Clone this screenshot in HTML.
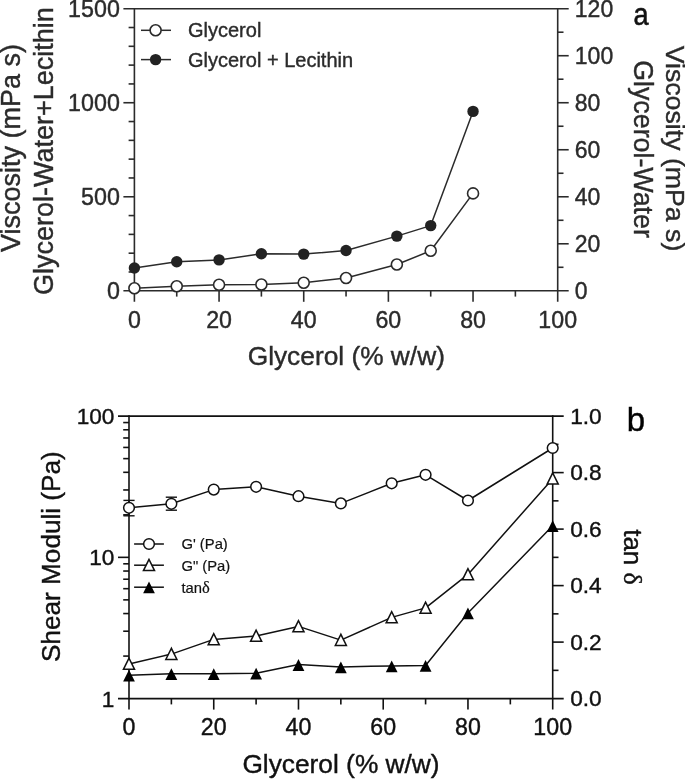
<!DOCTYPE html>
<html><head><meta charset="utf-8"><title>Figure</title>
<style>
html,body{margin:0;padding:0;background:#fff;}
body{width:685px;height:779px;overflow:hidden;font-family:"Liberation Sans",sans-serif;}
svg{display:block;}
svg g{opacity:0.999;}
</style></head><body>
<svg width="685" height="779" viewBox="0 0 685 779">
<rect width="685" height="779" fill="#fff"/>
<g id="panelA">
<line x1="134.40" y1="7.90" x2="134.40" y2="301.80" stroke="#2b2b2b" stroke-width="1.6" stroke-linecap="butt"/>
<line x1="557.70" y1="7.90" x2="557.70" y2="301.80" stroke="#2b2b2b" stroke-width="1.6" stroke-linecap="butt"/>
<line x1="123.40" y1="8.70" x2="568.70" y2="8.70" stroke="#2b2b2b" stroke-width="1.6" stroke-linecap="butt"/>
<line x1="123.40" y1="290.80" x2="568.70" y2="290.80" stroke="#2b2b2b" stroke-width="1.6" stroke-linecap="butt"/>
<line x1="128.60" y1="271.99" x2="134.40" y2="271.99" stroke="#2b2b2b" stroke-width="1.6" stroke-linecap="butt"/>
<line x1="128.60" y1="253.19" x2="134.40" y2="253.19" stroke="#2b2b2b" stroke-width="1.6" stroke-linecap="butt"/>
<line x1="128.60" y1="234.38" x2="134.40" y2="234.38" stroke="#2b2b2b" stroke-width="1.6" stroke-linecap="butt"/>
<line x1="128.60" y1="215.57" x2="134.40" y2="215.57" stroke="#2b2b2b" stroke-width="1.6" stroke-linecap="butt"/>
<line x1="123.40" y1="196.77" x2="134.40" y2="196.77" stroke="#2b2b2b" stroke-width="1.6" stroke-linecap="butt"/>
<line x1="128.60" y1="177.96" x2="134.40" y2="177.96" stroke="#2b2b2b" stroke-width="1.6" stroke-linecap="butt"/>
<line x1="128.60" y1="159.15" x2="134.40" y2="159.15" stroke="#2b2b2b" stroke-width="1.6" stroke-linecap="butt"/>
<line x1="128.60" y1="140.35" x2="134.40" y2="140.35" stroke="#2b2b2b" stroke-width="1.6" stroke-linecap="butt"/>
<line x1="128.60" y1="121.54" x2="134.40" y2="121.54" stroke="#2b2b2b" stroke-width="1.6" stroke-linecap="butt"/>
<line x1="123.40" y1="102.73" x2="134.40" y2="102.73" stroke="#2b2b2b" stroke-width="1.6" stroke-linecap="butt"/>
<line x1="128.60" y1="83.93" x2="134.40" y2="83.93" stroke="#2b2b2b" stroke-width="1.6" stroke-linecap="butt"/>
<line x1="128.60" y1="65.12" x2="134.40" y2="65.12" stroke="#2b2b2b" stroke-width="1.6" stroke-linecap="butt"/>
<line x1="128.60" y1="46.31" x2="134.40" y2="46.31" stroke="#2b2b2b" stroke-width="1.6" stroke-linecap="butt"/>
<line x1="128.60" y1="27.51" x2="134.40" y2="27.51" stroke="#2b2b2b" stroke-width="1.6" stroke-linecap="butt"/>
<line x1="557.70" y1="267.29" x2="563.50" y2="267.29" stroke="#2b2b2b" stroke-width="1.6" stroke-linecap="butt"/>
<line x1="557.70" y1="243.78" x2="568.70" y2="243.78" stroke="#2b2b2b" stroke-width="1.6" stroke-linecap="butt"/>
<line x1="557.70" y1="220.28" x2="563.50" y2="220.28" stroke="#2b2b2b" stroke-width="1.6" stroke-linecap="butt"/>
<line x1="557.70" y1="196.77" x2="568.70" y2="196.77" stroke="#2b2b2b" stroke-width="1.6" stroke-linecap="butt"/>
<line x1="557.70" y1="173.26" x2="563.50" y2="173.26" stroke="#2b2b2b" stroke-width="1.6" stroke-linecap="butt"/>
<line x1="557.70" y1="149.75" x2="568.70" y2="149.75" stroke="#2b2b2b" stroke-width="1.6" stroke-linecap="butt"/>
<line x1="557.70" y1="126.24" x2="563.50" y2="126.24" stroke="#2b2b2b" stroke-width="1.6" stroke-linecap="butt"/>
<line x1="557.70" y1="102.73" x2="568.70" y2="102.73" stroke="#2b2b2b" stroke-width="1.6" stroke-linecap="butt"/>
<line x1="557.70" y1="79.22" x2="563.50" y2="79.22" stroke="#2b2b2b" stroke-width="1.6" stroke-linecap="butt"/>
<line x1="557.70" y1="55.72" x2="568.70" y2="55.72" stroke="#2b2b2b" stroke-width="1.6" stroke-linecap="butt"/>
<line x1="557.70" y1="32.21" x2="563.50" y2="32.21" stroke="#2b2b2b" stroke-width="1.6" stroke-linecap="butt"/>
<line x1="176.73" y1="290.80" x2="176.73" y2="296.60" stroke="#2b2b2b" stroke-width="1.6" stroke-linecap="butt"/>
<line x1="219.06" y1="290.80" x2="219.06" y2="301.80" stroke="#2b2b2b" stroke-width="1.6" stroke-linecap="butt"/>
<line x1="261.39" y1="290.80" x2="261.39" y2="296.60" stroke="#2b2b2b" stroke-width="1.6" stroke-linecap="butt"/>
<line x1="303.72" y1="290.80" x2="303.72" y2="301.80" stroke="#2b2b2b" stroke-width="1.6" stroke-linecap="butt"/>
<line x1="346.05" y1="290.80" x2="346.05" y2="296.60" stroke="#2b2b2b" stroke-width="1.6" stroke-linecap="butt"/>
<line x1="388.38" y1="290.80" x2="388.38" y2="301.80" stroke="#2b2b2b" stroke-width="1.6" stroke-linecap="butt"/>
<line x1="430.71" y1="290.80" x2="430.71" y2="296.60" stroke="#2b2b2b" stroke-width="1.6" stroke-linecap="butt"/>
<line x1="473.04" y1="290.80" x2="473.04" y2="301.80" stroke="#2b2b2b" stroke-width="1.6" stroke-linecap="butt"/>
<line x1="515.37" y1="290.80" x2="515.37" y2="296.60" stroke="#2b2b2b" stroke-width="1.6" stroke-linecap="butt"/>
<text x="119.90" y="299.20" font-size="23.3" text-anchor="end" fill="#2b2b2b" stroke="#2b2b2b" stroke-width="0.4" font-family="Liberation Sans, sans-serif" >0</text>
<text x="119.90" y="205.17" font-size="23.3" text-anchor="end" fill="#2b2b2b" stroke="#2b2b2b" stroke-width="0.4" font-family="Liberation Sans, sans-serif" >500</text>
<text x="119.90" y="111.13" font-size="23.3" text-anchor="end" fill="#2b2b2b" stroke="#2b2b2b" stroke-width="0.4" font-family="Liberation Sans, sans-serif" >1000</text>
<text x="119.90" y="17.10" font-size="23.3" text-anchor="end" fill="#2b2b2b" stroke="#2b2b2b" stroke-width="0.4" font-family="Liberation Sans, sans-serif" >1500</text>
<text x="574.80" y="299.00" font-size="23" text-anchor="start" fill="#2b2b2b" stroke="#2b2b2b" stroke-width="0.4" font-family="Liberation Sans, sans-serif" >0</text>
<text x="574.80" y="251.98" font-size="23" text-anchor="start" fill="#2b2b2b" stroke="#2b2b2b" stroke-width="0.4" font-family="Liberation Sans, sans-serif" >20</text>
<text x="574.80" y="204.97" font-size="23" text-anchor="start" fill="#2b2b2b" stroke="#2b2b2b" stroke-width="0.4" font-family="Liberation Sans, sans-serif" >40</text>
<text x="574.80" y="157.95" font-size="23" text-anchor="start" fill="#2b2b2b" stroke="#2b2b2b" stroke-width="0.4" font-family="Liberation Sans, sans-serif" >60</text>
<text x="574.80" y="110.93" font-size="23" text-anchor="start" fill="#2b2b2b" stroke="#2b2b2b" stroke-width="0.4" font-family="Liberation Sans, sans-serif" >80</text>
<text x="574.80" y="63.92" font-size="23" text-anchor="start" fill="#2b2b2b" stroke="#2b2b2b" stroke-width="0.4" font-family="Liberation Sans, sans-serif" >100</text>
<text x="574.80" y="16.90" font-size="23" text-anchor="start" fill="#2b2b2b" stroke="#2b2b2b" stroke-width="0.4" font-family="Liberation Sans, sans-serif" >120</text>
<text x="134.40" y="327.60" font-size="23.2" text-anchor="middle" fill="#2b2b2b" stroke="#2b2b2b" stroke-width="0.4" font-family="Liberation Sans, sans-serif" >0</text>
<text x="219.06" y="327.60" font-size="23.2" text-anchor="middle" fill="#2b2b2b" stroke="#2b2b2b" stroke-width="0.4" font-family="Liberation Sans, sans-serif" >20</text>
<text x="303.72" y="327.60" font-size="23.2" text-anchor="middle" fill="#2b2b2b" stroke="#2b2b2b" stroke-width="0.4" font-family="Liberation Sans, sans-serif" >40</text>
<text x="388.38" y="327.60" font-size="23.2" text-anchor="middle" fill="#2b2b2b" stroke="#2b2b2b" stroke-width="0.4" font-family="Liberation Sans, sans-serif" >60</text>
<text x="473.04" y="327.60" font-size="23.2" text-anchor="middle" fill="#2b2b2b" stroke="#2b2b2b" stroke-width="0.4" font-family="Liberation Sans, sans-serif" >80</text>
<text x="557.70" y="327.60" font-size="23.2" text-anchor="middle" fill="#2b2b2b" stroke="#2b2b2b" stroke-width="0.4" font-family="Liberation Sans, sans-serif" >100</text>
<text x="346.30" y="365.30" font-size="26.3" text-anchor="middle" fill="#2b2b2b" stroke="#2b2b2b" stroke-width="0.4" font-family="Liberation Sans, sans-serif" >Glycerol (% w/w)</text>
<text transform="translate(20.2,148.0) rotate(-90)" font-size="27.0" text-anchor="middle" fill="#2b2b2b" stroke="#2b2b2b" stroke-width="0.4" font-family="Liberation Sans, sans-serif">Viscosity (mPa s)</text>
<text transform="translate(52.6,151.1) rotate(-90)" font-size="27.0" text-anchor="middle" fill="#2b2b2b" stroke="#2b2b2b" stroke-width="0.4" font-family="Liberation Sans, sans-serif">Glycerol-Water+Lecithin</text>
<text transform="translate(666.0,148.5) rotate(90)" font-size="26.7" text-anchor="middle" fill="#2b2b2b" stroke="#2b2b2b" stroke-width="0.4" font-family="Liberation Sans, sans-serif">Viscosity (mPa s)</text>
<text transform="translate(633.5,149.0) rotate(90)" font-size="26.8" text-anchor="middle" fill="#2b2b2b" stroke="#2b2b2b" stroke-width="0.4" font-family="Liberation Sans, sans-serif">Glycerol-Water</text>
<text transform="translate(633.4,24.6) scale(0.86,1)" font-size="31.5" fill="#111" stroke="#111" stroke-width="0.6" font-family="Liberation Sans, sans-serif">a</text>
<polyline fill="none" stroke="#2b2b2b" stroke-width="1.5" stroke-linejoin="round" points="134.40,288.20 176.73,286.30 219.06,284.80 261.39,284.50 303.72,282.80 346.05,278.00 396.85,264.50 430.71,250.80 473.04,193.40"/>
<circle cx="134.40" cy="288.20" r="5.5" fill="#fff" stroke="#2b2b2b" stroke-width="1.6"/>
<circle cx="176.73" cy="286.30" r="5.5" fill="#fff" stroke="#2b2b2b" stroke-width="1.6"/>
<circle cx="219.06" cy="284.80" r="5.5" fill="#fff" stroke="#2b2b2b" stroke-width="1.6"/>
<circle cx="261.39" cy="284.50" r="5.5" fill="#fff" stroke="#2b2b2b" stroke-width="1.6"/>
<circle cx="303.72" cy="282.80" r="5.5" fill="#fff" stroke="#2b2b2b" stroke-width="1.6"/>
<circle cx="346.05" cy="278.00" r="5.5" fill="#fff" stroke="#2b2b2b" stroke-width="1.6"/>
<circle cx="396.85" cy="264.50" r="5.5" fill="#fff" stroke="#2b2b2b" stroke-width="1.6"/>
<circle cx="430.71" cy="250.80" r="5.5" fill="#fff" stroke="#2b2b2b" stroke-width="1.6"/>
<circle cx="473.04" cy="193.40" r="5.5" fill="#fff" stroke="#2b2b2b" stroke-width="1.6"/>
<polyline fill="none" stroke="#2b2b2b" stroke-width="1.5" stroke-linejoin="round" points="134.40,268.00 176.73,261.70 219.06,259.90 261.39,253.80 303.72,254.10 346.05,250.50 396.85,236.10 430.71,225.60 473.04,111.40"/>
<circle cx="134.40" cy="268.00" r="5.7" fill="#222"/>
<circle cx="176.73" cy="261.70" r="5.7" fill="#222"/>
<circle cx="219.06" cy="259.90" r="5.7" fill="#222"/>
<circle cx="261.39" cy="253.80" r="5.7" fill="#222"/>
<circle cx="303.72" cy="254.10" r="5.7" fill="#222"/>
<circle cx="346.05" cy="250.50" r="5.7" fill="#222"/>
<circle cx="396.85" cy="236.10" r="5.7" fill="#222"/>
<circle cx="430.71" cy="225.60" r="5.7" fill="#222"/>
<circle cx="473.04" cy="111.40" r="5.7" fill="#222"/>
<line x1="141.00" y1="30.30" x2="171.00" y2="30.30" stroke="#2b2b2b" stroke-width="1.5" stroke-linecap="butt"/>
<circle cx="155.6" cy="30.3" r="5.5" fill="#fff" stroke="#2b2b2b" stroke-width="1.6"/>
<line x1="141.00" y1="59.60" x2="171.00" y2="59.60" stroke="#2b2b2b" stroke-width="1.5" stroke-linecap="butt"/>
<circle cx="155.6" cy="59.6" r="5.7" fill="#222"/>
<text x="188.00" y="37.40" font-size="20" text-anchor="start" fill="#2b2b2b" stroke="#2b2b2b" stroke-width="0.4" font-family="Liberation Sans, sans-serif" >Glycerol</text>
<text x="188.00" y="66.60" font-size="20" text-anchor="start" fill="#2b2b2b" stroke="#2b2b2b" stroke-width="0.4" font-family="Liberation Sans, sans-serif" >Glycerol + Lecithin</text>
</g>
<g id="panelB">
<line x1="129.00" y1="415.30" x2="129.00" y2="709.60" stroke="#111" stroke-width="1.6" stroke-linecap="butt"/>
<line x1="552.70" y1="415.30" x2="552.70" y2="709.60" stroke="#111" stroke-width="1.6" stroke-linecap="butt"/>
<line x1="118.00" y1="416.10" x2="563.70" y2="416.10" stroke="#111" stroke-width="1.6" stroke-linecap="butt"/>
<line x1="118.00" y1="698.60" x2="563.70" y2="698.60" stroke="#111" stroke-width="1.6" stroke-linecap="butt"/>
<line x1="123.20" y1="656.08" x2="129.00" y2="656.08" stroke="#111" stroke-width="1.6" stroke-linecap="butt"/>
<line x1="123.20" y1="631.21" x2="129.00" y2="631.21" stroke="#111" stroke-width="1.6" stroke-linecap="butt"/>
<line x1="123.20" y1="613.56" x2="129.00" y2="613.56" stroke="#111" stroke-width="1.6" stroke-linecap="butt"/>
<line x1="123.20" y1="599.87" x2="129.00" y2="599.87" stroke="#111" stroke-width="1.6" stroke-linecap="butt"/>
<line x1="123.20" y1="588.69" x2="129.00" y2="588.69" stroke="#111" stroke-width="1.6" stroke-linecap="butt"/>
<line x1="123.20" y1="579.23" x2="129.00" y2="579.23" stroke="#111" stroke-width="1.6" stroke-linecap="butt"/>
<line x1="123.20" y1="571.04" x2="129.00" y2="571.04" stroke="#111" stroke-width="1.6" stroke-linecap="butt"/>
<line x1="123.20" y1="563.81" x2="129.00" y2="563.81" stroke="#111" stroke-width="1.6" stroke-linecap="butt"/>
<line x1="123.20" y1="514.83" x2="129.00" y2="514.83" stroke="#111" stroke-width="1.6" stroke-linecap="butt"/>
<line x1="123.20" y1="489.96" x2="129.00" y2="489.96" stroke="#111" stroke-width="1.6" stroke-linecap="butt"/>
<line x1="123.20" y1="472.31" x2="129.00" y2="472.31" stroke="#111" stroke-width="1.6" stroke-linecap="butt"/>
<line x1="123.20" y1="458.62" x2="129.00" y2="458.62" stroke="#111" stroke-width="1.6" stroke-linecap="butt"/>
<line x1="123.20" y1="447.44" x2="129.00" y2="447.44" stroke="#111" stroke-width="1.6" stroke-linecap="butt"/>
<line x1="123.20" y1="437.98" x2="129.00" y2="437.98" stroke="#111" stroke-width="1.6" stroke-linecap="butt"/>
<line x1="123.20" y1="429.79" x2="129.00" y2="429.79" stroke="#111" stroke-width="1.6" stroke-linecap="butt"/>
<line x1="123.20" y1="422.56" x2="129.00" y2="422.56" stroke="#111" stroke-width="1.6" stroke-linecap="butt"/>
<line x1="118.00" y1="557.35" x2="129.00" y2="557.35" stroke="#111" stroke-width="1.6" stroke-linecap="butt"/>
<line x1="552.70" y1="670.35" x2="558.50" y2="670.35" stroke="#111" stroke-width="1.6" stroke-linecap="butt"/>
<line x1="552.70" y1="642.10" x2="563.70" y2="642.10" stroke="#111" stroke-width="1.6" stroke-linecap="butt"/>
<line x1="552.70" y1="613.85" x2="558.50" y2="613.85" stroke="#111" stroke-width="1.6" stroke-linecap="butt"/>
<line x1="552.70" y1="585.60" x2="563.70" y2="585.60" stroke="#111" stroke-width="1.6" stroke-linecap="butt"/>
<line x1="552.70" y1="557.35" x2="558.50" y2="557.35" stroke="#111" stroke-width="1.6" stroke-linecap="butt"/>
<line x1="552.70" y1="529.10" x2="563.70" y2="529.10" stroke="#111" stroke-width="1.6" stroke-linecap="butt"/>
<line x1="552.70" y1="500.85" x2="558.50" y2="500.85" stroke="#111" stroke-width="1.6" stroke-linecap="butt"/>
<line x1="552.70" y1="472.60" x2="563.70" y2="472.60" stroke="#111" stroke-width="1.6" stroke-linecap="butt"/>
<line x1="552.70" y1="444.35" x2="558.50" y2="444.35" stroke="#111" stroke-width="1.6" stroke-linecap="butt"/>
<line x1="171.37" y1="698.60" x2="171.37" y2="704.40" stroke="#111" stroke-width="1.6" stroke-linecap="butt"/>
<line x1="213.74" y1="698.60" x2="213.74" y2="709.60" stroke="#111" stroke-width="1.6" stroke-linecap="butt"/>
<line x1="256.11" y1="698.60" x2="256.11" y2="704.40" stroke="#111" stroke-width="1.6" stroke-linecap="butt"/>
<line x1="298.48" y1="698.60" x2="298.48" y2="709.60" stroke="#111" stroke-width="1.6" stroke-linecap="butt"/>
<line x1="340.85" y1="698.60" x2="340.85" y2="704.40" stroke="#111" stroke-width="1.6" stroke-linecap="butt"/>
<line x1="383.22" y1="698.60" x2="383.22" y2="709.60" stroke="#111" stroke-width="1.6" stroke-linecap="butt"/>
<line x1="425.59" y1="698.60" x2="425.59" y2="704.40" stroke="#111" stroke-width="1.6" stroke-linecap="butt"/>
<line x1="467.96" y1="698.60" x2="467.96" y2="709.60" stroke="#111" stroke-width="1.6" stroke-linecap="butt"/>
<line x1="510.33" y1="698.60" x2="510.33" y2="704.40" stroke="#111" stroke-width="1.6" stroke-linecap="butt"/>
<text x="114.40" y="706.70" font-size="22.6" text-anchor="end" fill="#111" stroke="#111" stroke-width="0.4" font-family="Liberation Sans, sans-serif" >1</text>
<text x="114.40" y="565.45" font-size="22.6" text-anchor="end" fill="#111" stroke="#111" stroke-width="0.4" font-family="Liberation Sans, sans-serif" >10</text>
<text x="114.40" y="424.20" font-size="22.6" text-anchor="end" fill="#111" stroke="#111" stroke-width="0.4" font-family="Liberation Sans, sans-serif" >100</text>
<text x="570.20" y="706.20" font-size="22.7" text-anchor="start" fill="#111" stroke="#111" stroke-width="0.4" font-family="Liberation Sans, sans-serif" >0.0</text>
<text x="570.20" y="649.70" font-size="22.7" text-anchor="start" fill="#111" stroke="#111" stroke-width="0.4" font-family="Liberation Sans, sans-serif" >0.2</text>
<text x="570.20" y="593.20" font-size="22.7" text-anchor="start" fill="#111" stroke="#111" stroke-width="0.4" font-family="Liberation Sans, sans-serif" >0.4</text>
<text x="570.20" y="536.70" font-size="22.7" text-anchor="start" fill="#111" stroke="#111" stroke-width="0.4" font-family="Liberation Sans, sans-serif" >0.6</text>
<text x="570.20" y="480.20" font-size="22.7" text-anchor="start" fill="#111" stroke="#111" stroke-width="0.4" font-family="Liberation Sans, sans-serif" >0.8</text>
<text x="570.20" y="423.70" font-size="22.7" text-anchor="start" fill="#111" stroke="#111" stroke-width="0.4" font-family="Liberation Sans, sans-serif" >1.0</text>
<text x="129.00" y="734.50" font-size="23.2" text-anchor="middle" fill="#111" stroke="#111" stroke-width="0.4" font-family="Liberation Sans, sans-serif" >0</text>
<text x="213.74" y="734.50" font-size="23.2" text-anchor="middle" fill="#111" stroke="#111" stroke-width="0.4" font-family="Liberation Sans, sans-serif" >20</text>
<text x="298.48" y="734.50" font-size="23.2" text-anchor="middle" fill="#111" stroke="#111" stroke-width="0.4" font-family="Liberation Sans, sans-serif" >40</text>
<text x="383.22" y="734.50" font-size="23.2" text-anchor="middle" fill="#111" stroke="#111" stroke-width="0.4" font-family="Liberation Sans, sans-serif" >60</text>
<text x="467.96" y="734.50" font-size="23.2" text-anchor="middle" fill="#111" stroke="#111" stroke-width="0.4" font-family="Liberation Sans, sans-serif" >80</text>
<text x="552.70" y="734.50" font-size="23.2" text-anchor="middle" fill="#111" stroke="#111" stroke-width="0.4" font-family="Liberation Sans, sans-serif" >100</text>
<text x="341.00" y="772.50" font-size="26.3" text-anchor="middle" fill="#111" stroke="#111" stroke-width="0.4" font-family="Liberation Sans, sans-serif" >Glycerol (% w/w)</text>
<text transform="translate(59.8,556.6) rotate(-90)" font-size="26.15" text-anchor="middle" fill="#111" stroke="#111" stroke-width="0.4" font-family="Liberation Sans, sans-serif">Shear Moduli (Pa)</text>
<text transform="translate(623.8,557.0) rotate(90)" font-size="26" text-anchor="middle" fill="#111" stroke="#111" stroke-width="0.4" font-family="Liberation Sans, sans-serif">tan <tspan font-family="Liberation Serif, serif">δ</tspan></text>
<text x="626.80" y="431.00" font-size="33" text-anchor="start" fill="#000" stroke="#000" stroke-width="0.4" font-family="Liberation Sans, sans-serif" >b</text>
<line x1="129.00" y1="500.40" x2="129.00" y2="515.80" stroke="#111" stroke-width="1.4" stroke-linecap="butt"/>
<line x1="123.40" y1="500.40" x2="134.60" y2="500.40" stroke="#111" stroke-width="1.4" stroke-linecap="butt"/>
<line x1="123.40" y1="515.80" x2="134.60" y2="515.80" stroke="#111" stroke-width="1.4" stroke-linecap="butt"/>
<line x1="171.37" y1="497.20" x2="171.37" y2="510.20" stroke="#111" stroke-width="1.4" stroke-linecap="butt"/>
<line x1="165.77" y1="497.20" x2="176.97" y2="497.20" stroke="#111" stroke-width="1.4" stroke-linecap="butt"/>
<line x1="165.77" y1="510.20" x2="176.97" y2="510.20" stroke="#111" stroke-width="1.4" stroke-linecap="butt"/>
<polyline fill="none" stroke="#111" stroke-width="1.5" stroke-linejoin="round" points="129.00,675.30 171.37,673.70 213.74,673.70 256.11,673.30 298.48,664.60 340.85,666.90 391.69,665.90 425.59,665.50 467.96,613.00 552.70,525.70"/>
<polygon points="129.00,669.80 123.10,681.60 134.90,681.60" fill="#000"/>
<polygon points="171.37,668.20 165.47,680.00 177.27,680.00" fill="#000"/>
<polygon points="213.74,668.20 207.84,680.00 219.64,680.00" fill="#000"/>
<polygon points="256.11,667.80 250.21,679.60 262.01,679.60" fill="#000"/>
<polygon points="298.48,659.10 292.58,670.90 304.38,670.90" fill="#000"/>
<polygon points="340.85,661.40 334.95,673.20 346.75,673.20" fill="#000"/>
<polygon points="391.69,660.40 385.79,672.20 397.59,672.20" fill="#000"/>
<polygon points="425.59,660.00 419.69,671.80 431.49,671.80" fill="#000"/>
<polygon points="467.96,607.50 462.06,619.30 473.86,619.30" fill="#000"/>
<polygon points="552.70,520.20 546.80,532.00 558.60,532.00" fill="#000"/>
<polyline fill="none" stroke="#111" stroke-width="1.5" stroke-linejoin="round" points="129.00,663.90 171.37,654.10 213.74,639.40 256.11,635.90 298.48,626.40 340.85,640.10 391.69,617.40 425.59,607.90 467.96,574.40 552.70,478.70"/>
<polygon points="129.00,658.10 123.45,669.30 134.55,669.30" fill="#fff" stroke="#111" stroke-width="1.5" stroke-linejoin="miter" stroke-miterlimit="10"/>
<polygon points="171.37,648.30 165.82,659.50 176.92,659.50" fill="#fff" stroke="#111" stroke-width="1.5" stroke-linejoin="miter" stroke-miterlimit="10"/>
<polygon points="213.74,633.60 208.19,644.80 219.29,644.80" fill="#fff" stroke="#111" stroke-width="1.5" stroke-linejoin="miter" stroke-miterlimit="10"/>
<polygon points="256.11,630.10 250.56,641.30 261.66,641.30" fill="#fff" stroke="#111" stroke-width="1.5" stroke-linejoin="miter" stroke-miterlimit="10"/>
<polygon points="298.48,620.60 292.93,631.80 304.03,631.80" fill="#fff" stroke="#111" stroke-width="1.5" stroke-linejoin="miter" stroke-miterlimit="10"/>
<polygon points="340.85,634.30 335.30,645.50 346.40,645.50" fill="#fff" stroke="#111" stroke-width="1.5" stroke-linejoin="miter" stroke-miterlimit="10"/>
<polygon points="391.69,611.60 386.14,622.80 397.24,622.80" fill="#fff" stroke="#111" stroke-width="1.5" stroke-linejoin="miter" stroke-miterlimit="10"/>
<polygon points="425.59,602.10 420.04,613.30 431.14,613.30" fill="#fff" stroke="#111" stroke-width="1.5" stroke-linejoin="miter" stroke-miterlimit="10"/>
<polygon points="467.96,568.60 462.41,579.80 473.51,579.80" fill="#fff" stroke="#111" stroke-width="1.5" stroke-linejoin="miter" stroke-miterlimit="10"/>
<polygon points="552.70,472.90 547.15,484.10 558.25,484.10" fill="#fff" stroke="#111" stroke-width="1.5" stroke-linejoin="miter" stroke-miterlimit="10"/>
<polyline fill="none" stroke="#111" stroke-width="1.5" stroke-linejoin="round" points="129.00,507.80 171.37,503.80 213.74,489.60 256.11,486.80 298.48,496.20 340.85,503.40 391.69,483.30 425.59,474.80 467.96,500.50 552.70,448.00"/>
<circle cx="129.00" cy="507.80" r="5.35" fill="#fff" stroke="#111" stroke-width="1.5"/>
<circle cx="171.37" cy="503.80" r="5.35" fill="#fff" stroke="#111" stroke-width="1.5"/>
<circle cx="213.74" cy="489.60" r="5.35" fill="#fff" stroke="#111" stroke-width="1.5"/>
<circle cx="256.11" cy="486.80" r="5.35" fill="#fff" stroke="#111" stroke-width="1.5"/>
<circle cx="298.48" cy="496.20" r="5.35" fill="#fff" stroke="#111" stroke-width="1.5"/>
<circle cx="340.85" cy="503.40" r="5.35" fill="#fff" stroke="#111" stroke-width="1.5"/>
<circle cx="391.69" cy="483.30" r="5.35" fill="#fff" stroke="#111" stroke-width="1.5"/>
<circle cx="425.59" cy="474.80" r="5.35" fill="#fff" stroke="#111" stroke-width="1.5"/>
<circle cx="467.96" cy="500.50" r="5.35" fill="#fff" stroke="#111" stroke-width="1.5"/>
<circle cx="552.70" cy="448.00" r="5.35" fill="#fff" stroke="#111" stroke-width="1.5"/>
<line x1="134.10" y1="544.00" x2="163.90" y2="544.00" stroke="#111" stroke-width="1.5" stroke-linecap="butt"/>
<line x1="134.10" y1="565.20" x2="163.90" y2="565.20" stroke="#111" stroke-width="1.5" stroke-linecap="butt"/>
<line x1="134.10" y1="587.20" x2="163.90" y2="587.20" stroke="#111" stroke-width="1.5" stroke-linecap="butt"/>
<circle cx="149.00" cy="544.00" r="5.35" fill="#fff" stroke="#111" stroke-width="1.5"/>
<polygon points="149.00,559.40 143.45,570.60 154.55,570.60" fill="#fff" stroke="#111" stroke-width="1.5" stroke-linejoin="miter" stroke-miterlimit="10"/>
<polygon points="149.00,581.40 143.10,593.20 154.90,593.20" fill="#000"/>
<text x="181.40" y="549.00" font-size="14.8" text-anchor="start" fill="#111" stroke="#111"  font-family="Liberation Sans, sans-serif" stroke-width="0.2">G' (Pa)</text>
<text x="181.40" y="570.90" font-size="14.8" text-anchor="start" fill="#111" stroke="#111"  font-family="Liberation Sans, sans-serif" stroke-width="0.2">G" (Pa)</text>
<text x="181.4" y="593.0" font-size="14.8" fill="#111" stroke="#111" stroke-width="0.2" font-family="Liberation Sans, sans-serif">tan<tspan font-family="Liberation Serif, serif" font-size="16.5">δ</tspan></text>
</g>
</svg>
</body></html>
